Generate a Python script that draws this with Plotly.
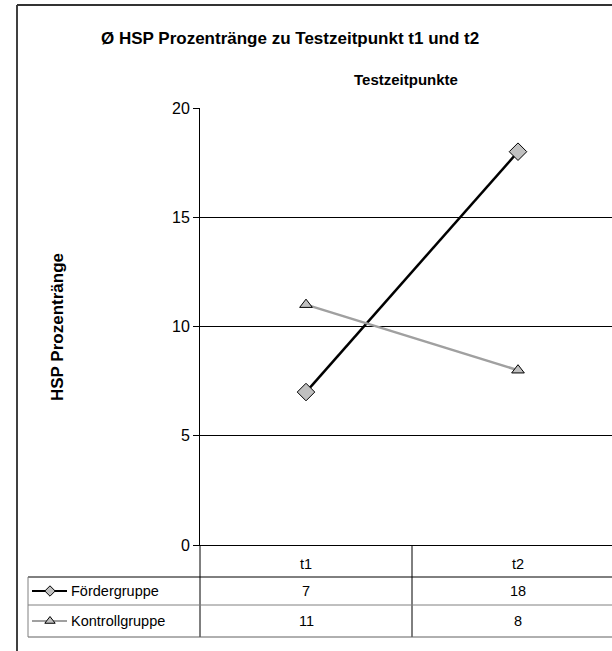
import plotly.graph_objects as go

# ---- data ----
categories = ["t1", "t2"]
series_names = ["Fördergruppe", "Kontrollgruppe"]
foerder_values = [7, 18]
kontroll_values = [11, 8]
y_ticks = [0, 5, 10, 15, 20]

title_text = "Ø HSP Prozentränge zu Testzeitpunkt t1 und t2"
x_title = "Testzeitpunkte"
y_title = "HSP Prozentränge"

W, H = 612, 651
FONT = "Liberation Sans, Arial, sans-serif"


def px(x):
    return x / W


def py(y):
    return 1 - y / H


plot_left, plot_right = 200, 612
plot_top, plot_bottom = 108, 545
cat_w = 212  # pixel width of one category
x_range = [-0.5, -0.5 + (plot_right - plot_left) / cat_w]

fig = go.Figure()

styles = [
    dict(line=dict(color="black", width=2.5),
         marker=dict(symbol="diamond", size=13.5, color="#c0c0c0", line=dict(color="black", width=1))),
    dict(line=dict(color="#a0a0a0", width=2.5),
         marker=dict(symbol="triangle-up", size=11, color="#c0c0c0", line=dict(color="black", width=1))),
]
key_marker_sizes = [8, 9]
all_values = [foerder_values, kontroll_values]

for name, vals, st in zip(series_names, all_values, styles):
    fig.add_trace(go.Scatter(x=categories, y=vals, mode="lines+markers", name=name,
                             line=st["line"], marker=st["marker"], showlegend=False,
                             xaxis="x", yaxis="y"))

# legend keys inside data table (overlay pixel axes)
row_centers = [591, 621]
for name, st, yc, ks in zip(series_names, styles, row_centers, key_marker_sizes):
    fig.add_trace(go.Scatter(x=[32, 50, 67], y=[yc, yc, yc], mode="lines",
                             line=dict(color=st["line"]["color"], width=2), showlegend=False,
                             hoverinfo="skip", xaxis="x2", yaxis="y2"))
    mk = dict(st["marker"])
    mk["size"] = ks
    fig.add_trace(go.Scatter(x=[50], y=[yc], mode="markers", marker=mk,
                             showlegend=False, hoverinfo="skip", xaxis="x2", yaxis="y2"))

shapes = []
# outer chart border
shapes.append(dict(type="line", xref="paper", yref="paper", x0=px(17), x1=px(17), y0=py(5), y1=py(660),
                   line=dict(color="black", width=1.5)))
shapes.append(dict(type="line", xref="paper", yref="paper", x0=px(17), x1=px(620), y0=py(5), y1=py(5),
                   line=dict(color="#333333", width=2)))
# table lines
table_lines = [
    (plot_left, plot_bottom, plot_left, 637, "black"),   # extension of y axis
    (412, plot_bottom, 412, 637, "black"),                # between categories
    (28, 577, 620, 577, "black"),
    (28, 605, 620, 605, "#808080"),
    (28, 637, 620, 637, "#606060"),
    (28, 577, 28, 637, "#808080"),
]
for x0, y0, x1, y1, c in table_lines:
    shapes.append(dict(type="line", xref="paper", yref="paper", x0=px(x0), x1=px(x1), y0=py(y0), y1=py(y1),
                       line=dict(color=c, width=1)))

annotations = []
annotations.append(dict(text="<b>" + title_text + "</b>", x=px(290), y=py(38), xref="paper", yref="paper",
                        showarrow=False, font=dict(family=FONT, size=17, color="black"),
                        xanchor="center", yanchor="middle"))
annotations.append(dict(text="<b>" + x_title + "</b>", x=px(406), y=py(80), xref="paper", yref="paper",
                        showarrow=False, font=dict(family=FONT, size=15, color="black"),
                        xanchor="center", yanchor="middle"))
annotations.append(dict(text="<b>" + y_title + "</b>", x=px(57), y=py(327), xref="paper", yref="paper",
                        showarrow=False, textangle=-90, font=dict(family=FONT, size=17, color="black"),
                        xanchor="center", yanchor="middle"))
# table row labels and values
for name, vals, yc in zip(series_names, all_values, row_centers):
    annotations.append(dict(text=name, x=px(69), y=py(yc), xref="paper", yref="paper", showarrow=False,
                            xanchor="left", yanchor="middle", font=dict(family=FONT, size=14.5, color="black")))
    for c, v in zip(categories, vals):
        annotations.append(dict(text=str(v), x=c, y=py(yc), xref="x", yref="paper", showarrow=False,
                                xanchor="center", yanchor="middle",
                                font=dict(family=FONT, size=14.5, color="black")))

fig.update_layout(
    template="none",
    width=W, height=H, autosize=False,
    margin=dict(l=0, r=0, t=0, b=0, pad=0, autoexpand=False),
    paper_bgcolor="white", plot_bgcolor="rgba(0,0,0,0)",
    font=dict(family=FONT, size=14, color="black"),
    showlegend=False,
    xaxis=dict(domain=[px(plot_left), 1], range=x_range, type="category", showgrid=False,
               showline=True, linecolor="black", linewidth=1, ticks="", ticklabelstandoff=6,
               tickfont=dict(family=FONT, size=14.5), zeroline=False, fixedrange=True, anchor="y",
               automargin=False),
    yaxis=dict(domain=[py(plot_bottom), py(plot_top)], range=[0, 20], tickvals=y_ticks,
               showgrid=True, gridcolor="black", gridwidth=1, showline=True, linecolor="black",
               linewidth=1, ticks="outside", ticklen=6, tickcolor="black",
               tickfont=dict(family=FONT, size=16), zeroline=False, fixedrange=True, anchor="x",
               automargin=False),
    xaxis2=dict(domain=[0, 1], range=[0, W], visible=False, anchor="y2", fixedrange=True,
                automargin=False),
    yaxis2=dict(domain=[0, 1], range=[H, 0], visible=False, anchor="x2", fixedrange=True,
                automargin=False),
    shapes=shapes,
    annotations=annotations,
)

fig.write_html("out.html",
               config={"displayModeBar": False},
               post_script="document.body.style.margin='0';")
